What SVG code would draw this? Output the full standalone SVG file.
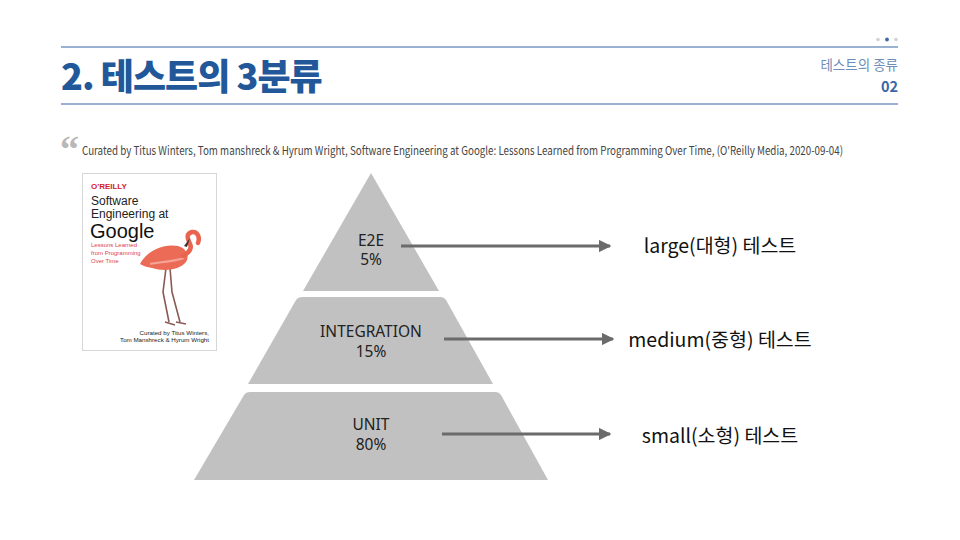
<svg xmlns="http://www.w3.org/2000/svg" width="960" height="540" viewBox="0 0 960 540">
<style>
.rule{stroke:#7a97c2;stroke-width:1.5}
.ko{font-family:"Noto Sans CJK KR","Noto Sans",sans-serif}
.tier{fill:#c1c1c1}
.tl{font-family:"Noto Sans","Noto Sans CJK KR",sans-serif;font-size:15.5px;fill:#222;text-anchor:middle}
.lbl{font-family:"Noto Sans CJK KR","Noto Sans",sans-serif;font-size:19.5px;fill:#111;text-anchor:middle}
.conn{stroke:#6b6b6b;stroke-width:3;fill:none;marker-end:url(#ah)}
.bk{font-family:"Liberation Sans","Noto Sans",sans-serif}
</style>
<defs>
<marker id="ah" viewBox="0 0 10 10" refX="9" refY="5" markerWidth="4.2" markerHeight="4.2" orient="auto" markerUnits="strokeWidth">
<path d="M0,0 L10,5 L0,10 Z" fill="#6b6b6b"/>
</marker>
</defs>
<rect width="960" height="540" fill="#ffffff"/>
<g id="header">
<line class="rule" x1="61" y1="47" x2="898" y2="47"/>
<line class="rule" x1="61" y1="104" x2="898" y2="104"/>
<text x="61" y="90" class="ko" font-size="36" font-weight="900" fill="#22589a" letter-spacing="-1">2. 테스트의 3분류</text>
<circle cx="878" cy="39.5" r="1.8" fill="#cfd3d8"/>
<circle cx="887" cy="39.5" r="1.9" fill="#3f6aa6"/>
<circle cx="896" cy="39.5" r="1.8" fill="#cfd3d8"/>
<text x="898" y="70" class="ko" font-size="13.5" fill="#6f8db8" text-anchor="end">테스트의 종류</text>
<text x="898" y="92" class="ko" font-size="14.5" font-weight="700" fill="#3a68a6" text-anchor="end">02</text>
</g>
<g id="quote">
<text x="60" y="162" font-family="Liberation Serif,serif" font-size="38" font-weight="700" fill="#b8b8b8">“</text>
<text x="82" y="155" class="ko" font-size="11.8" fill="#444" textLength="761" lengthAdjust="spacingAndGlyphs">Curated by Titus Winters, Tom manshreck &amp; Hyrum Wright, Software Engineering at Google: Lessons Learned from Programming Over Time, (O'Reilly Media, 2020-09-04)</text>
</g>
<g id="book">
<rect x="82.5" y="173.5" width="134" height="177" fill="#ffffff" stroke="#d6d6d6" stroke-width="1"/>
<text x="91" y="189" class="bk" font-size="8" font-weight="700" fill="#d3222a">O'REILLY</text>
<text x="91" y="205" class="bk" font-size="12" fill="#222">Software</text>
<text x="91" y="218" class="bk" font-size="12" fill="#222">Engineering at</text>
<text x="90" y="238" class="bk" font-size="20" fill="#111">Google</text>
<text x="91" y="247" class="bk" font-size="6" fill="#e0404a">Lessons Learned</text>
<text x="91" y="255" class="bk" font-size="6" fill="#e0404a">from Programming</text>
<text x="91" y="263" class="bk" font-size="6" fill="#e0404a">Over Time</text>
<g id="flamingo">
<path d="M166,268 L163,292 L169,322" stroke="#8a5a55" stroke-width="1.6" fill="none"/>
<path d="M170,268 L172,292 L180,322" stroke="#8a5a55" stroke-width="1.6" fill="none"/>
<path d="M165,322 L175,325 M176,322 L186,324" stroke="#8a5a55" stroke-width="1.5"/>
<path d="M140,264 C146,252 162,243 178,246 C186,248 190,256 186,262 C180,270 164,272 152,268 C147,267 143,266 140,264 Z" fill="#ec6b56"/>
<path d="M150,264 C160,262 172,262 184,258" stroke="#f4a597" stroke-width="2" fill="none"/>
<path d="M183,256 C190,252 192,248 190,244 C187,238 186,234 192,232 C198,231 200,238 198,243" stroke="#ea6550" stroke-width="4.5" fill="none" stroke-linecap="round"/>
<path d="M190,238 L184,246 L187,247 Z" fill="#333"/>
</g>
<text x="209" y="335" class="bk" font-size="6.2" fill="#222" text-anchor="end">Curated by Titus Winters,</text>
<text x="209" y="342" class="bk" font-size="6.2" fill="#222" text-anchor="end">Tom Manshreck &amp; Hyrum Wright</text>
</g>
<g id="tier-e2e">
<path class="tier" d="M371,173 L439,291 L303,291 Z"/>
<text x="371" y="246" class="tl">E2E</text>
<text x="371" y="265" class="tl">5%</text>
</g>
<g id="tier-integration">
<path class="tier" d="M303,297 L441,297 Q444,297 446,300 L493,384 L248,384 L296,300 Q298,297 303,297 Z"/>
<text x="371" y="337" class="tl">INTEGRATION</text>
<text x="371" y="357" class="tl">15%</text>
</g>
<g id="tier-unit">
<path class="tier" d="M250,392 L496,392 Q499,392 501,395 L548,480 L194,480 L244,395 Q246,392 250,392 Z"/>
<text x="371" y="430" class="tl">UNIT</text>
<text x="371" y="450" class="tl">80%</text>
</g>
<g id="connectors">
<line class="conn" x1="401" y1="246" x2="610" y2="246"/>
<line class="conn" x1="444" y1="339" x2="613" y2="339"/>
<line class="conn" x1="442" y1="434" x2="610" y2="434"/>
</g>
<g id="label-large"><text x="720" y="253" class="lbl">large(대형) 테스트</text></g>
<g id="label-medium"><text x="720" y="347" class="lbl">medium(중형) 테스트</text></g>
<g id="label-small"><text x="720" y="443" class="lbl">small(소형) 테스트</text></g>
</svg>
